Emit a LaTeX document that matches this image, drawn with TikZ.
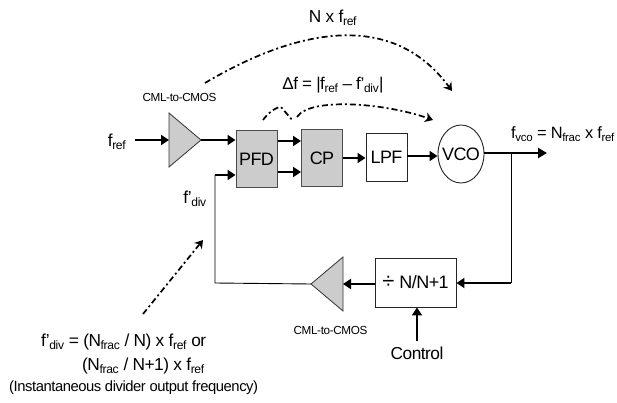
\documentclass[tikz,border=0pt]{standalone}
\usepackage{fontspec}
\setmainfont[LetterSpace=-3]{Liberation Sans}
\usetikzlibrary{arrows.meta,shapes.geometric}
\definecolor{gfill}{RGB}{204,204,204}
\tikzset{
 x=1pt,y=-1pt,
 blk/.style={draw=black!85,line width=0.9pt,minimum width=41pt,minimum height=48pt,inner sep=0,font=\fontsize{18}{18}\selectfont},
 gblk/.style={blk,fill=gfill,draw=black!70,line width=1pt,minimum height=57pt},
 amp/.style={draw=black!80,fill=gfill,line width=0.8pt},
 lab/.style={inner sep=0,font=\fontsize{17.3}{18}\selectfont},
 small/.style={inner sep=0,font=\fontsize{11.7}{12}\selectfont},
 thick arrow/.style={line width=1.8pt,-{Triangle[length=8pt,width=10pt]}},
 thinline/.style={line width=0.9pt},
 dd/.style={line width=1.7pt,dash pattern=on 6pt off 3pt on 2pt off 3pt},
 ddtip/.style={dd,-{Stealth[length=8pt,width=10pt]}},
}
\newcommand{\sbs}[1]{\textsubscript{\kern-0.3pt#1}}
\begin{document}
\begin{tikzpicture}
\useasboundingbox (0,0) rectangle (617,403);
\fill[white] (0,0) rectangle (617,403);
\node[gblk] (pfd) at (256.5,159.5) {PFD};
\node[gblk] (cp) at (322,158.5) {CP};
\node[blk] (lpf) at (386.5,157) {LPF};
\node[draw=black!85,line width=0.9pt,ellipse,inner sep=0,minimum width=46pt,minimum height=58pt,label={[inner sep=0,font=\fontsize{18}{18}\selectfont]center:VCO}] (vco) at (461,154) {};
\node[blk,minimum width=81pt,minimum height=49pt] (div) at (415.5,282.5) {{\fontsize{22}{18}\selectfont ÷}\kern5pt N/N+1};
\draw[amp] (169,113) -- (169,167) -- (201,140) -- cycle;
\draw[amp] (343,257) -- (343,311) -- (311,284) -- cycle;
\coordinate (amp1in) at (169,140);
\coordinate (amp1out) at (201,140);
\coordinate (amp2in) at (343,284);
\coordinate (amp2out) at (311,284);
\node[lab] (fref) at (117,142) {f\sbs{ref}};
\coordinate (frefe) at (135,140);
\draw[thick arrow] (frefe) -- (amp1in);
\draw[thick arrow] (amp1out) -- (pfd.west |- amp1out);
\draw[thick arrow] (pfd.east |- 0,141) -- (cp.west |- 0,141);
\draw[thick arrow] (pfd.east |- 0,172) -- (cp.west |- 0,172);
\draw[thick arrow] (cp.east |- 0,158) -- (lpf.west |- 0,158);
\draw[thick arrow] (lpf.east |- 0,156) -- (vco.west |- 0,156);
\coordinate (out) at (547,153);
\coordinate (branch) at (511,153);
\coordinate (corner1) at (511,283);
\draw[line width=2.2pt,-{Triangle[length=9pt,width=10pt]}] (vco.east |- out) -- (out);
\draw[thinline] (branch) -- (corner1);
\draw[thick arrow] (corner1) -- (div.east |- corner1);
\draw[thick arrow] (div.west |- amp2in) -- (amp2in);
\coordinate (fb1) at (215,283);
\coordinate (fb2) at (215,175);
\draw[thinline] (amp2out) -- (fb1) -- (fb2);
\draw[thick arrow] (fb2) -- (pfd.west |- fb2);
\coordinate (ctl) at (417,341);
\draw[thick arrow] (ctl) -- (ctl |- div.south);
\node[small] (cml1) at (179.5,97.5) {CML-to-CMOS};
\node[small] (cml2) at (330.5,330) {CML-to-CMOS};
\node[lab] (nx) at (333,18) {N x f\sbs{ref}};
\node[lab,font=\fontsize{17}{18}\selectfont] (df) at (333,85) {Δf = |f\sbs{ref} – f’\sbs{div}|};
\node[lab,font=\fontsize{16.4}{18}\selectfont,anchor=west] (fvco) at (511,134) {f\sbs{vco} = N\sbs{frac} x f\sbs{ref}};
\node[lab] (fdiv) at (195,199) {f’\sbs{div}};
\node[lab] (ctltxt) at (417,353) {Control};
\node[lab,anchor=west] (eq1) at (41,342) {f’\sbs{div} = (N\sbs{frac} / N) x f\sbs{ref} or};
\node[lab,anchor=west] (eq2) at (82,366) {(N\sbs{frac} / N+1) x f\sbs{ref}};
\node[inner sep=0,font=\fontsize{14.8}{15}\selectfont,anchor=west] (eq3) at (9,388) {(Instantaneous divider output frequency)};
\coordinate (b1) at (205,83);
\coordinate (b2) at (452,91);
\draw[ddtip] (b1) .. controls (296,29) and (392,9) .. (b2);
\coordinate (s1) at (263,120);
\coordinate (s2) at (281,107);
\coordinate (s3) at (293,121);
\coordinate (s4) at (297,117);
\coordinate (s5) at (433,120);
\draw[dd] (s1) .. controls (268,113) and (276,107) .. (s2) -- (s3);
\draw[ddtip] (s4) .. controls (310,97) and (385,103) .. (s5);
\coordinate (e1) at (143,314);
\coordinate (e2) at (203,240);
\draw[ddtip] (e1) -- (e2);
\end{tikzpicture}
\end{document}
